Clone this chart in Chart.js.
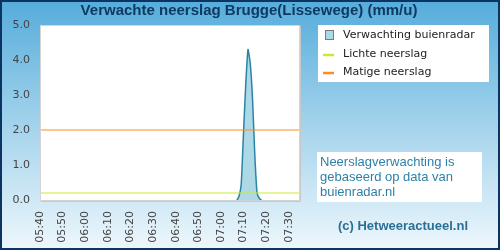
<!DOCTYPE html>
<html>
<head>
<meta charset="utf-8">
<script src="https://cdn.jsdelivr.net/npm/chart.js@4.4.0/dist/chart.umd.min.js"></script>
<style>
  body { margin: 0; background: #fff; }
  canvas { display: block; }
</style>
</head>
<body>
<canvas id="c" width="500" height="250"></canvas>
<script>
// forecast times (HH:MM) and rain in mm/u
const rainTimes = ['05:40', '05:45', '05:50', '05:55', '06:00', '06:05', '06:10', '06:15', '06:20', '06:25',
  '06:30', '06:35', '06:40', '06:45', '06:50', '06:55', '07:00', '07:05', '07:07', '07:08', '07:09',
  '07:10', '07:11', '07:12', '07:13', '07:14', '07:15', '07:16', '07:17', '07:18', '07:20', '07:25',
  '07:30', '07:35'];
const rainValues = [0, 0, 0, 0, 0, 0, 0, 0, 0, 0,
  0, 0, 0, 0, 0, 0, 0, 0, 0, 0.1, 0.45,
  1.9, 3.3, 4.3, 3.9, 2.9, 1.3, 0.2, 0.05, 0, 0, 0,
  0, 0];
const tickLabels = ['05:40', '05:50', '06:00', '06:10', '06:20', '06:30', '06:40', '06:50', '07:00', '07:10', '07:20', '07:30'];
const yTicks = [0, 1, 2, 3, 4, 5];
const lightRain = 0.2;     // Lichte neerslag
const moderateRain = 2.0;  // Matige neerslag
const startTime = '05:40';
const endTime = '07:35';

function toMin(t) {
  const p = t.split(':');
  const s = startTime.split(':');
  return (+p[0] * 60 + +p[1]) - (+s[0] * 60 + +s[1]);
}
function toLabel(m) {
  const s = startTime.split(':');
  const tot = +s[0] * 60 + +s[1] + m;
  return String(Math.floor(tot / 60)).padStart(2, '0') + ':' + String(tot % 60).padStart(2, '0');
}

const xMax = toMin(endTime);
const rainData = rainTimes.map((t, i) => ({ x: toMin(t), y: rainValues[i] }));

const AREA_FILL = '#add8e6';
const AREA_LINE = '#2b84a6';
const GREEN = '#c8ec2c';
const ORANGE = '#ff8c1e';

// background, frame, title, legend and note
const decor = {
  id: 'decor',
  beforeDraw(chart) {
    const ctx = chart.ctx;
    const a = chart.chartArea;
    const g = ctx.createLinearGradient(0, 0, 0, 250);
    g.addColorStop(0, '#55acdb');
    g.addColorStop(0.5, '#a3d3ec');
    g.addColorStop(1, '#eef7fc');
    ctx.fillStyle = g;
    ctx.fillRect(0, 0, 500, 250);
    ctx.fillStyle = '#ffffff';
    ctx.fillRect(a.left, a.top, a.right - a.left, a.bottom - a.top);
  },
  afterDatasetsDraw(chart) {
    const ctx = chart.ctx;
    const a = chart.chartArea;
    ctx.save();
    ctx.strokeStyle = '#d4d4d4';
    ctx.lineWidth = 1;
    ctx.strokeRect(a.left + 0.5, a.top + 0.5, a.right - a.left - 1, a.bottom - a.top);
    ctx.strokeStyle = '#c8c8c8';
    ctx.beginPath();
    ctx.moveTo(a.right + 0.5, a.top + 1);
    ctx.lineTo(a.right + 0.5, a.bottom + 1.5);
    ctx.lineTo(a.left + 1, a.bottom + 1.5);
    ctx.stroke();
    ctx.restore();
  },
  afterDraw(chart) {
    const ctx = chart.ctx;
    ctx.save();
    // outer frame
    ctx.strokeStyle = '#0c3463';
    ctx.lineWidth = 2;
    ctx.strokeRect(1, 1, 498, 248);

    // title
    ctx.fillStyle = '#0e3a62';
    ctx.font = 'bold 15px "Liberation Sans", Arial, sans-serif';
    ctx.textAlign = 'center';
    ctx.textBaseline = 'middle';
    ctx.fillText('Verwachte neerslag Brugge(Lissewege) (mm/u)', 249, 11);

    // legend
    ctx.fillStyle = '#ffffff';
    ctx.fillRect(318, 25, 171, 57);
    const ds = chart.data.datasets;
    const rows = [35, 54, 72];
    ctx.font = '11px "DejaVu Sans", sans-serif';
    ctx.textAlign = 'left';
    ds.forEach((d, i) => {
      const y = rows[i];
      if (d.fill) {
        ctx.fillStyle = d.backgroundColor;
        ctx.fillRect(325.5, y - 4.5, 8, 9);
        ctx.strokeStyle = '#7a7a7a';
        ctx.lineWidth = 1;
        ctx.strokeRect(325.5, y - 4.5, 8, 9);
      } else {
        ctx.strokeStyle = d.borderColor;
        ctx.lineWidth = 2.5;
        ctx.beginPath();
        ctx.moveTo(323, y + 1);
        ctx.lineTo(334, y + 1);
        ctx.stroke();
      }
      ctx.fillStyle = '#222222';
      ctx.fillText(d.label, 343, y);
    });

    // note box
    ctx.fillStyle = '#ffffff';
    ctx.fillRect(317, 152, 165, 50);
    ctx.fillStyle = '#2e80a8';
    ctx.font = '13px "Liberation Sans", Arial, sans-serif';
    ctx.textBaseline = 'alphabetic';
    ctx.fillText('Neerslagverwachting is', 320, 166);
    ctx.fillText('gebaseerd op data van', 320, 181);
    ctx.fillText('buienradar.nl', 320, 196);

    ctx.fillStyle = '#2a7096';
    ctx.font = 'bold 13px "Liberation Sans", Arial, sans-serif';
    ctx.textAlign = 'center';
    ctx.fillText('(c) Hetweeractueel.nl', 403, 230);
    ctx.restore();
  }
};

new Chart(document.getElementById('c').getContext('2d'), {
  type: 'line',
  data: {
    datasets: [
      {
        label: 'Verwachting buienradar',
        data: rainData,
        fill: 'origin',
        backgroundColor: AREA_FILL,
        borderColor: AREA_LINE,
        borderWidth: 1.5,
        pointRadius: 0,
        tension: 0.15,
        order: 2,
        segment: {
          borderColor: c => (c.p0.parsed.y === 0 && c.p1.parsed.y === 0) ? 'rgba(0,0,0,0)' : AREA_LINE
        }
      },
      {
        label: 'Lichte neerslag',
        data: [{ x: 0, y: lightRain }, { x: xMax, y: lightRain }],
        borderColor: GREEN,
        borderWidth: 1,
        pointRadius: 0,
        fill: false,
        order: 1
      },
      {
        label: 'Matige neerslag',
        data: [{ x: 0, y: moderateRain }, { x: xMax, y: moderateRain }],
        borderColor: ORANGE,
        borderWidth: 1,
        pointRadius: 0,
        fill: false,
        order: 0
      }
    ]
  },
  options: {
    responsive: false,
    devicePixelRatio: 1,
    animation: false,
    events: [],
    layout: { padding: { left: 0, top: 25, right: 200, bottom: 0 } },
    plugins: { legend: { display: false }, tooltip: { enabled: false }, title: { display: false } },
    scales: {
      x: {
        type: 'linear',
        min: 0,
        max: xMax,
        grid: { display: false, drawTicks: false },
        border: { display: false },
        afterBuildTicks: s => { s.ticks = tickLabels.map(l => ({ value: toMin(l) })); },
        afterFit: s => { s.height = 50; },
        ticks: {
          autoSkip: false,
          minRotation: 90,
          maxRotation: 90,
          padding: 11,
          color: '#444444',
          font: { family: 'DejaVu Sans', size: 11 },
          callback: v => toLabel(v)
        }
      },
      y: {
        min: 0,
        max: 5,
        grid: { display: false, drawTicks: false },
        border: { display: false },
        afterBuildTicks: s => { s.ticks = yTicks.map(v => ({ value: v })); },
        afterFit: s => { s.width = 40; },
        ticks: {
          padding: 10,
          color: '#444444',
          font: { family: 'DejaVu Sans', size: 11 },
          callback: v => v.toFixed(1)
        }
      }
    }
  },
  plugins: [decor]
});
</script>
</body>
</html>
